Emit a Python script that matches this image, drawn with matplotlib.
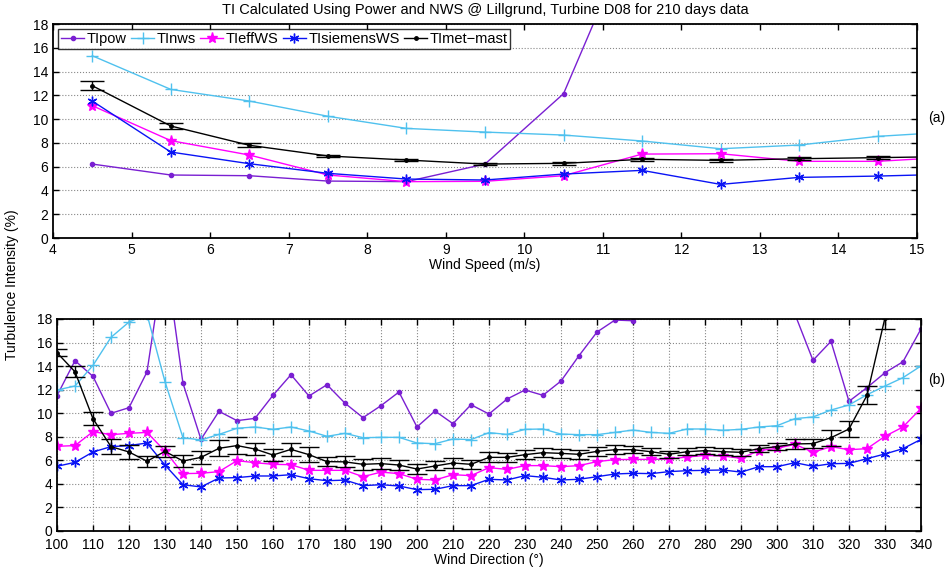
import numpy as np
import matplotlib.pyplot as plt

plt.rcParams['font.family'] = ['Liberation Sans', 'DejaVu Sans']

# ---- panel (a): TI vs wind speed ----
ws = [4.5, 5.5, 6.5, 7.5, 8.5, 9.5, 10.5, 11.5, 12.5, 13.5, 14.5, 15.5]
ti_pow_ws = [6.22, 5.30, 5.24, 4.79, 4.74, 6.22, 12.14, 27.6, np.nan, np.nan, np.nan, np.nan]
ti_nws_ws = [15.33, 12.50, 11.52, 10.24, 9.22, 8.91, 8.66, 8.16, 7.51, 7.82, 8.55, 8.95]
ti_eff_ws = [11.13, 8.19, 6.98, 5.30, 4.74, 4.77, 5.24, 7.06, 7.09, 6.45, 6.45, 6.83]
ti_sie_ws = [11.52, 7.23, 6.25, 5.44, 4.96, 4.88, 5.38, 5.69, 4.51, 5.10, 5.21, 5.38]
ti_met_ws = [12.81, 9.42, 7.80, 6.90, 6.56, 6.22, 6.28, 6.62, 6.53, 6.67, 6.76, 6.86]
ti_met_ws_err = [0.36, 0.28, 0.15, 0.10, 0.10, 0.10, 0.10, 0.12, 0.12, 0.12, 0.12, 0.12]

# ---- panel (b): TI vs wind direction ----
wd = list(range(100, 345, 5))
ti_pow_wd = [11.49, 14.46, 13.13, 9.99, 10.47, 13.50, 23.6, 12.54, 7.78, 10.16,
             9.37, 9.56, 11.52, 13.27, 11.46, 12.42, 10.85, 9.62, 10.64, 11.80,
             8.83, 10.19, 9.11, 10.72, 9.93, 11.20, 11.97, 11.52, 12.73, 14.88,
             16.89, 17.91, 17.85, 19.5, 21.0, 22.0, 23.0, 22.5, 21.5, 21.0,
             20.0, 18.4, 14.49, 16.10, 11.01, 12.17, 13.44, 14.37, 17.15]
ti_nws_wd = [11.97, 12.31, 14.06, 16.44, 17.74, 18.4, 12.68, 7.92, 7.73, 8.20,
             8.72, 8.83, 8.63, 8.83, 8.49, 8.04, 8.29, 7.92, 7.95, 7.95,
             7.47, 7.41, 7.81, 7.76, 8.35, 8.20, 8.63, 8.66, 8.23, 8.18,
             8.18, 8.37, 8.57, 8.37, 8.29, 8.66, 8.66, 8.55, 8.63, 8.83,
             8.94, 9.54, 9.68, 10.27, 10.70, 11.57, 12.31, 13.02, 14.01]
ti_eff_wd = [7.19, 7.25, 8.43, 8.18, 8.29, 8.37, 6.79, 4.87, 4.90, 5.04,
             5.97, 5.80, 5.66, 5.63, 5.15, 5.15, 5.15, 4.61, 5.00, 4.87,
             4.39, 4.33, 4.78, 4.70, 5.38, 5.23, 5.55, 5.55, 5.46, 5.55,
             5.89, 6.06, 6.08, 6.08, 6.11, 6.28, 6.42, 6.37, 6.17, 6.82,
             7.02, 7.36, 6.68, 7.16, 6.90, 6.99, 8.04, 8.83, 10.41]
ti_sie_wd = [5.49, 5.83, 6.71, 7.16, 7.25, 7.47, 5.60, 3.93, 3.74, 4.50,
             4.53, 4.67, 4.67, 4.78, 4.44, 4.27, 4.32, 3.85, 3.93, 3.82,
             3.51, 3.54, 3.85, 3.85, 4.39, 4.33, 4.70, 4.56, 4.33, 4.39,
             4.61, 4.84, 4.90, 4.87, 5.04, 5.12, 5.15, 5.18, 5.00, 5.46,
             5.46, 5.80, 5.49, 5.71, 5.74, 6.14, 6.54, 6.99, 7.78]
ti_met_wd = [15.14, 13.52, 9.54, 7.16, 6.71, 5.92, 6.76, 5.94, 6.25, 7.02,
             7.25, 6.96, 6.45, 6.93, 6.48, 5.89, 5.87, 5.66, 5.72, 5.60,
             5.26, 5.52, 5.77, 5.66, 6.25, 6.25, 6.48, 6.65, 6.59, 6.51,
             6.76, 6.90, 6.90, 6.73, 6.51, 6.73, 6.82, 6.73, 6.68, 6.99,
             7.16, 7.39, 7.42, 7.92, 8.66, 11.52, 18.1, np.nan, np.nan]
ti_met_wd_err = [0.30, 0.45, 0.58, 0.62, 0.60, 0.48, 0.48, 0.48, 0.58, 0.68,
                 0.75, 0.54, 0.50, 0.58, 0.64, 0.35, 0.47, 0.44, 0.45, 0.40,
                 0.40, 0.38, 0.40, 0.38, 0.42, 0.40, 0.40, 0.40, 0.38, 0.38,
                 0.40, 0.38, 0.30, 0.30, 0.30, 0.30, 0.30, 0.30, 0.30, 0.30,
                 0.30, 0.40, 0.40, 0.68, 0.64, 0.76, 0.95, 0.0, 0.0]

c_pow = '#7a1fd2'
c_nws = '#4fc1ee'
c_eff = '#ff00ff'
c_sie = '#0a14f5'
asterisk = (6, 2, 0)

fig = plt.figure(figsize=(9.48, 5.69), dpi=100)
ax1 = fig.add_axes([0.0559, 0.5817, 0.9114, 0.3761])
ax2 = fig.add_axes([0.0601, 0.0668, 0.9114, 0.3726])

def draw(ax, x, pw, nw, ef, si, me, me_err, cap):
    h = []
    h += ax.plot(x, pw, color=c_pow, marker='.', ms=6, lw=1.0, label='TIpow')
    h += ax.plot(x, nw, color=c_nws, marker='+', ms=8, lw=1.0, label='TInws')
    h += ax.plot(x, ef, color=c_eff, marker='*', ms=8, lw=1.0, label='TIeffWS')
    h += ax.plot(x, si, color=c_sie, marker=asterisk, ms=7, lw=1.0, label='TIsiemensWS')
    eb = ax.errorbar(x, me, yerr=me_err, color='black', marker='.', ms=5, lw=1.0,
                     capsize=cap, elinewidth=1.0, capthick=1.0)
    h.append(eb[0])
    return h

handles = draw(ax1, ws, ti_pow_ws, ti_nws_ws, ti_eff_ws, ti_sie_ws, ti_met_ws, ti_met_ws_err, 8.5)
draw(ax2, wd, ti_pow_wd, ti_nws_wd, ti_eff_wd, ti_sie_wd, ti_met_wd, ti_met_wd_err, 7)

for ax in (ax1, ax2):
    ax.set_ylim(0, 18)
    ax.set_yticks(range(0, 19, 2))
    ax.tick_params(direction='in', top=True, right=True, labelsize=10, length=4, width=1)
    for s in ax.spines.values():
        s.set_linewidth(1.3)
    ax.grid(True, axis='y', linestyle=':', color='#888888', lw=0.8)

ax1.set_xlim(4, 15)
ax1.set_xticks(range(4, 16))
ax1.set_xlabel('Wind Speed (m/s)', fontsize=10, labelpad=1)
ax1.set_title('TI Calculated Using Power and NWS @ Lillgrund, Turbine D08 for 210 days data',
              fontsize=10.5, pad=7)
labels = ['TIpow', 'TInws', 'TIeffWS', 'TIsiemensWS', 'TImet\u2212mast']
leg = ax1.legend(handles, labels, loc='upper left', ncol=5, fontsize=10.5, frameon=True,
                 fancybox=False, handlelength=1.6, columnspacing=0.3, handletextpad=0.15,
                 borderpad=0.2, borderaxespad=0.35)
leg.get_frame().set_edgecolor('black')
leg.get_frame().set_linewidth(1.0)

ax2.set_xlim(100, 340)
ax2.set_xticks(range(100, 341, 10))
ax2.tick_params(axis='x', pad=5)
ax2.grid(True, axis='x', linestyle=':', color='#888888', lw=0.8)
ax2.set_xlabel('Wind Direction (\u00b0)', fontsize=10, labelpad=0.5)

fig.text(0.013, 0.5, 'Turbulence Intensity (%)', rotation=90, va='center', ha='center', fontsize=10)
fig.text(0.988, 0.793, '(a)', ha='center', va='center', fontsize=10)
fig.text(0.988, 0.332, '(b)', ha='center', va='center', fontsize=10)

fig.savefig('out.png', dpi=100)
